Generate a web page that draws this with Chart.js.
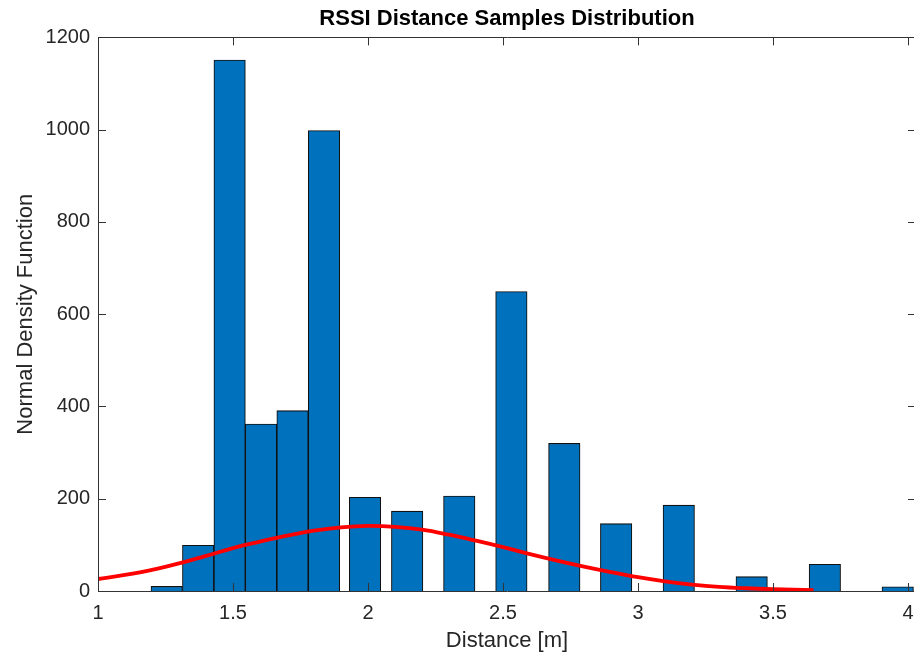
<!DOCTYPE html>
<html>
<head>
<meta charset="utf-8">
<script src="https://cdn.jsdelivr.net/npm/chart.js@4.4.1/dist/chart.umd.min.js"></script>
<style>
html,body{margin:0;padding:0;background:#fff;overflow:hidden;width:914px;height:661px;}
#wrap{width:920px;height:661px;}
</style>
</head>
<body>
<div id="wrap"><canvas id="c" width="920" height="661"></canvas></div>
<script>
// Histogram bar centres (distance in m) and counts
const barDistances = [1.2545, 1.371, 1.4875, 1.604, 1.7205, 1.837, 1.989, 2.145, 2.338, 2.531, 2.727, 2.919, 3.151, 3.421, 3.692, 3.962];
const barCounts    = [10, 99, 1151, 362, 391, 998, 203, 173, 206, 649, 320, 146, 186, 31, 58, 9];

// Fitted normal density curve
const curveDistances = [1.0, 1.1, 1.2, 1.3, 1.4, 1.5, 1.6, 1.7, 1.8, 1.9, 2.0, 2.1, 2.2, 2.3, 2.4, 2.5, 2.6, 2.7, 2.8, 2.9, 3.0, 3.1, 3.2, 3.3, 3.4, 3.5, 3.65];
const curveValues    = [26, 35, 46, 60, 76, 93, 107, 120, 131, 138, 141, 139, 133, 122, 109, 95, 80, 66, 53, 41, 30, 21, 14, 9, 6, 4, 2];

const xTicks = [1, 1.5, 2, 2.5, 3, 3.5, 4];
const yTicks = [0, 200, 400, 600, 800, 1000, 1200];

const textColor = '#262626';
const axisColor = '#333333';

const boxTicks = {
  id: 'boxTicks',
  afterDatasetsDraw(chart) {
    const {ctx, chartArea: a, scales: {x, y}} = chart;
    const L = 8;
    ctx.save();
    ctx.strokeStyle = axisColor;
    ctx.lineWidth = 1;
    ctx.beginPath();
    ctx.rect(Math.round(a.left) + 0.5, Math.round(a.top) + 0.5, Math.round(a.right - a.left), Math.round(a.bottom - a.top));
    xTicks.forEach(v => {
      const px = Math.round(x.getPixelForValue(v)) + 0.5;
      ctx.moveTo(px, a.bottom); ctx.lineTo(px, a.bottom - L);
      ctx.moveTo(px, a.top); ctx.lineTo(px, a.top + L);
    });
    yTicks.forEach(v => {
      const py = Math.round(y.getPixelForValue(v)) + 0.5;
      ctx.moveTo(a.left, py); ctx.lineTo(a.left + L, py);
      ctx.moveTo(a.right, py); ctx.lineTo(a.right - L, py);
    });
    ctx.stroke();
    ctx.restore();
  }
};

new Chart(document.getElementById('c'), {
  type: 'bar',
  data: {
    datasets: [
      {
        type: 'line',
        data: curveDistances.map((d, i) => ({x: d, y: curveValues[i]})),
        borderColor: '#FF0000',
        borderWidth: 3.8,
        pointRadius: 0,
        tension: 0.4,
        fill: false,
        order: 0
      },
      {
        type: 'bar',
        data: barDistances.map((d, i) => ({x: d, y: barCounts[i]})),
        backgroundColor: '#0072BD',
        borderColor: '#111111',
        borderWidth: 1.1,
        barPercentage: 1,
        categoryPercentage: 1,
        order: 1
      }
    ]
  },
  options: {
    responsive: false,
    animation: false,
    layout: {padding: {left: 0, right: 4, top: 0, bottom: 0}},
    plugins: {
      legend: {display: false},
      tooltip: {enabled: false},
      title: {
        display: true,
        text: 'RSSI Distance Samples Distribution',
        color: '#000',
        fullSize: false,
        font: {family: 'Liberation Sans, Arial, sans-serif', size: 22, weight: 'bold', lineHeight: 1.2},
        padding: {top: 6, bottom: 5}
      }
    },
    scales: {
      x: {
        type: 'linear',
        offset: false,
        min: 1,
        max: 4.0296,
        grid: {display: false, drawTicks: false},
        border: {display: false},
        afterBuildTicks: s => { s.ticks = xTicks.map(v => ({value: v})); },
        afterFit: s => { s.height = 70; s.paddingLeft = 0; s.paddingRight = 0; },
        ticks: {
          color: textColor,
          padding: 10,
          maxRotation: 0,
          autoSkip: false,
          font: {family: 'Liberation Sans, Arial, sans-serif', size: 20},
          callback: v => String(v)
        },
        title: {
          display: true,
          text: 'Distance [m]',
          color: textColor,
          font: {family: 'Liberation Sans, Arial, sans-serif', size: 22, lineHeight: 1.2},
          padding: {top: 0, bottom: 7}
        }
      },
      y: {
        type: 'linear',
        min: 0,
        max: 1200,
        grid: {display: false, drawTicks: false},
        border: {display: false},
        afterBuildTicks: s => { s.ticks = yTicks.map(v => ({value: v})); },
        afterFit: s => { s.width = 98; s.paddingTop = 0; s.paddingBottom = 0; },
        ticks: {
          color: textColor,
          padding: 8,
          autoSkip: false,
          font: {family: 'Liberation Sans, Arial, sans-serif', size: 20},
          callback: v => String(v)
        },
        title: {
          display: true,
          text: 'Normal Density Function',
          color: textColor,
          font: {family: 'Liberation Sans, Arial, sans-serif', size: 22, lineHeight: 1.2},
          padding: {top: 13, bottom: 0}
        }
      }
    }
  },
  plugins: [boxTicks]
});
</script>
</body>
</html>
